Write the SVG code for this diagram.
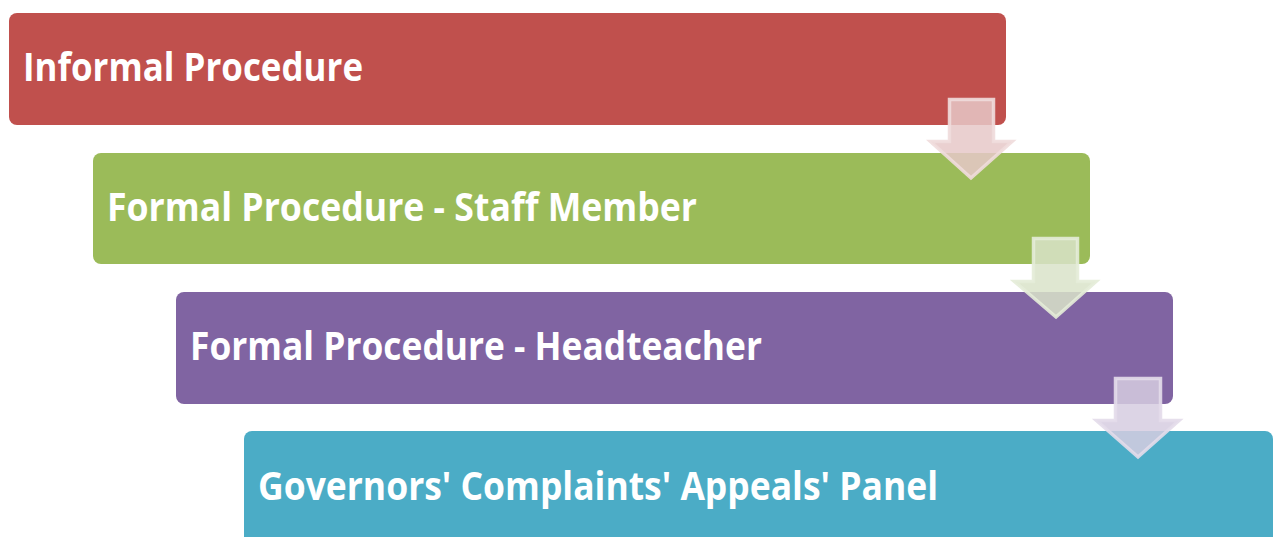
<svg xmlns="http://www.w3.org/2000/svg" width="1273" height="537" viewBox="0 0 1273 537">
<style>
.box{stroke:none}
.lbl{font-family:"Open Sans","Noto Sans","Liberation Sans",sans-serif;font-weight:bold;font-size:39px;fill:#ffffff}
.arr{stroke-width:3.5;stroke-linejoin:miter}
</style>
<rect width="1273" height="537" fill="#ffffff"/>
<g id="node1"><rect class="box" x="9" y="13" width="997" height="112" rx="8" fill="#c0504d"/><text class="lbl" x="23" y="81" textLength="340" lengthAdjust="spacingAndGlyphs">Informal Procedure</text></g>
<g id="node2"><rect class="box" x="93" y="153" width="997" height="111" rx="8" fill="#9bbb59"/><text class="lbl" x="107" y="221" textLength="590" lengthAdjust="spacingAndGlyphs">Formal Procedure - Staff Member</text></g>
<g id="node3"><rect class="box" x="176" y="292" width="997" height="112" rx="8" fill="#8064a2"/><text class="lbl" x="190" y="360" textLength="572" lengthAdjust="spacingAndGlyphs">Formal Procedure - Headteacher</text></g>
<g id="node4"><rect class="box" x="244" y="431" width="1029" height="120" rx="8" fill="#4bacc6"/><text class="lbl" x="258" y="500" textLength="680" lengthAdjust="spacingAndGlyphs">Governors' Complaints' Appeals' Panel</text></g>
<g id="connectors">
<path class="arr" d="M949.5 99.5 H993.5 V141.5 H1012 L971 178 L930.5 141.5 H949.5 Z" fill="#e6c8c8" fill-opacity="0.85" stroke="#f0dcdc" stroke-opacity="0.9"/>
<path class="arr" d="M1033.5 238.5 H1077.5 V281.5 H1096 L1056 317 L1014.5 281.5 H1033.5 Z" fill="#d9e3c9" fill-opacity="0.85" stroke="#e4ecd8" stroke-opacity="0.9"/>
<path class="arr" d="M1115.5 378.5 H1160.5 V420.5 H1179 L1138 457 L1096.5 420.5 H1115.5 Z" fill="#d6cde0" fill-opacity="0.85" stroke="#e3dcea" stroke-opacity="0.9"/>
</g>
</svg>
